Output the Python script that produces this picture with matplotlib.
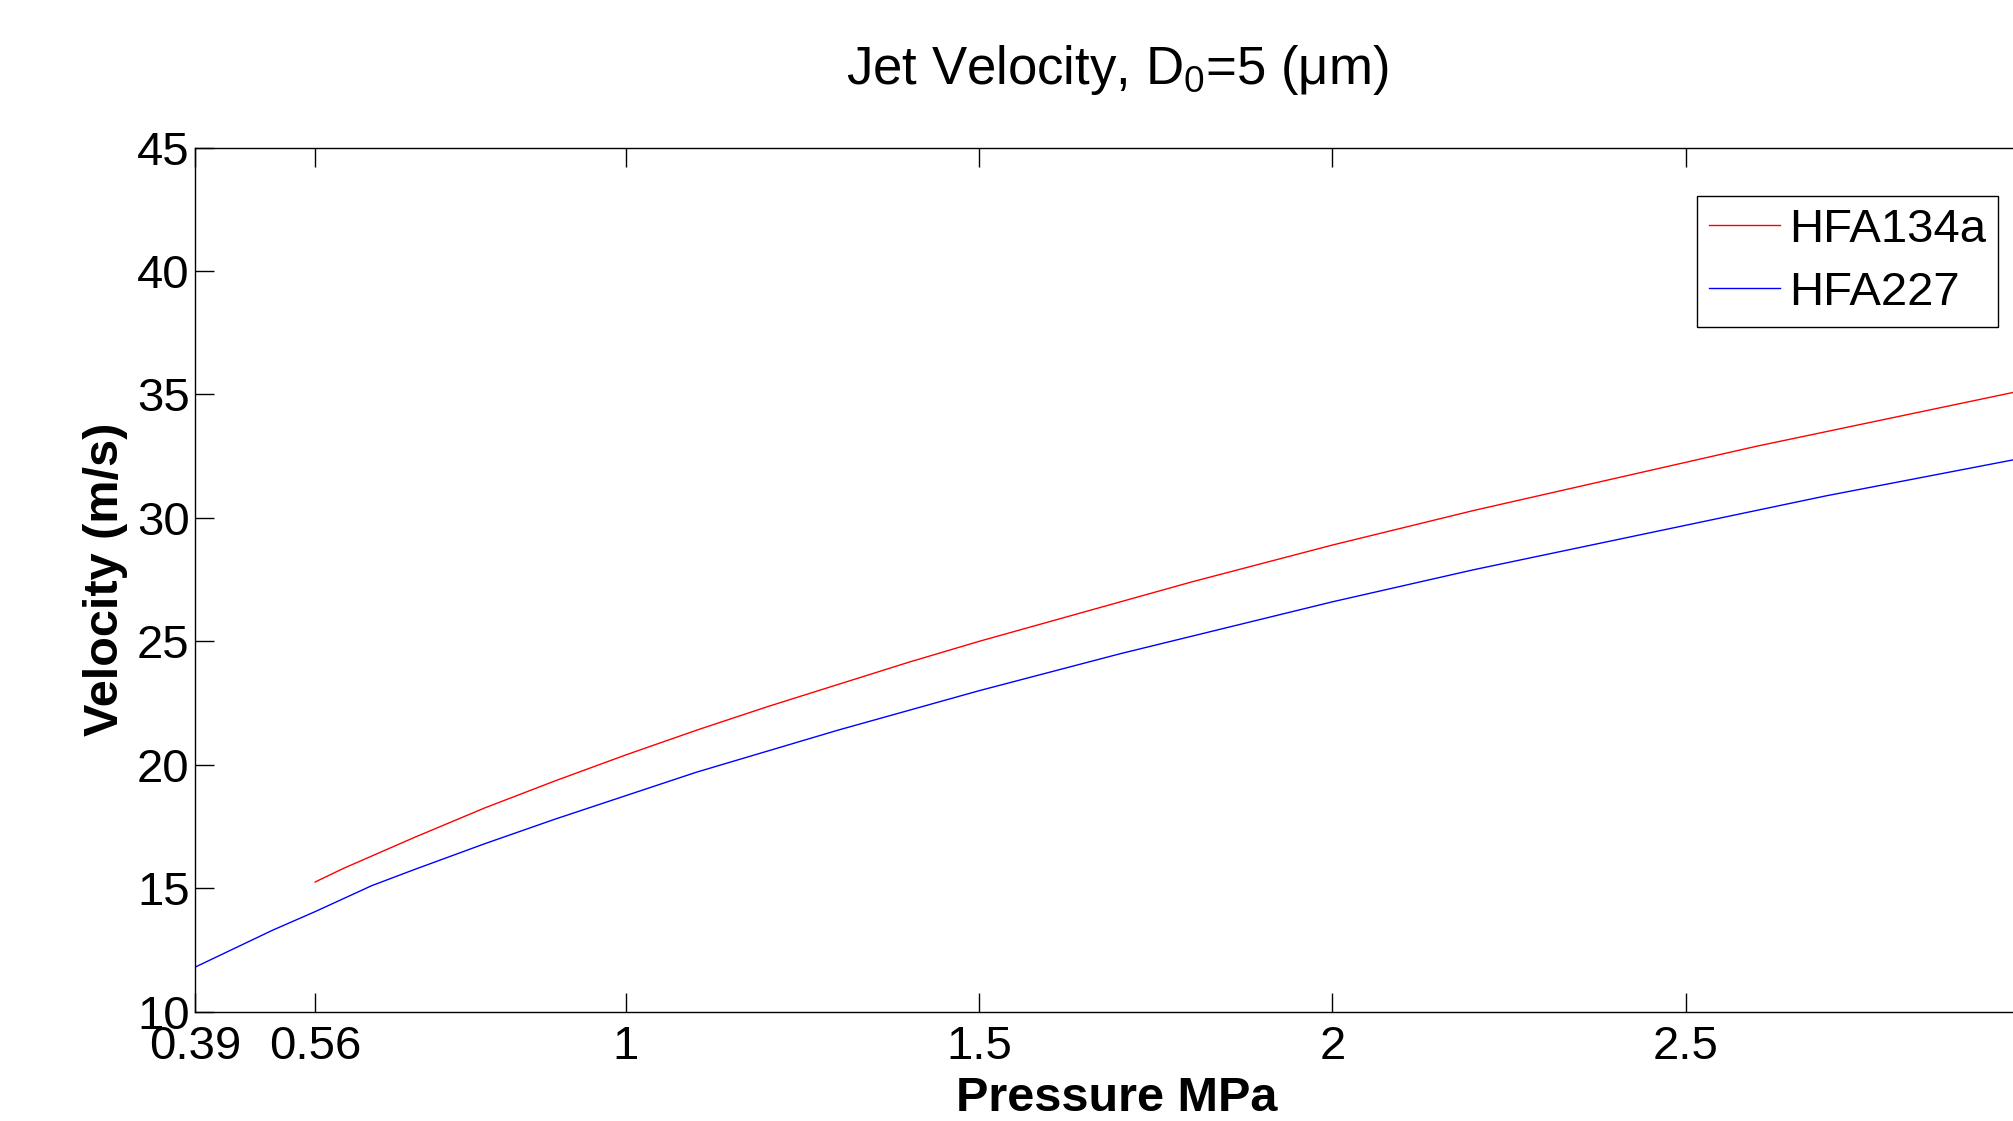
import matplotlib
matplotlib.use("Agg")
import matplotlib.pyplot as plt

plt.rcParams['font.family'] = ['Liberation Sans', 'DejaVu Sans']
plt.rcParams['mathtext.fontset'] = 'custom'
plt.rcParams['mathtext.rm'] = 'Liberation Sans'
plt.rcParams['mathtext.it'] = 'Liberation Sans'
plt.rcParams['mathtext.bf'] = 'Liberation Sans:bold'

# values
p_134a = [0.56, 0.6, 0.7, 0.8, 0.9, 1.0, 1.1, 1.2, 1.3, 1.4, 1.5, 1.6, 1.7, 1.8,
          1.9, 2.0, 2.1, 2.2, 2.3, 2.4, 2.5, 2.6, 2.7, 2.8, 2.9, 3.0]
v_134a = [15.25, 15.8, 17.05, 18.25, 19.35, 20.4, 21.4, 22.35, 23.25, 24.15, 25.0,
          25.8, 26.6, 27.4, 28.15, 28.9, 29.6, 30.3, 30.95, 31.6, 32.25, 32.9,
          33.5, 34.1, 34.7, 35.3]

p_227 = [0.39, 0.5, 0.56, 0.64, 0.7, 0.8, 0.9, 1.0, 1.1, 1.2, 1.3, 1.4, 1.5, 1.6,
         1.7, 1.8, 1.9, 2.0, 2.1, 2.2, 2.3, 2.4, 2.5, 2.6, 2.7, 2.8, 2.9, 3.0]
v_227 = [11.8, 13.3, 14.05, 15.1, 15.75, 16.8, 17.8, 18.75, 19.7, 20.55, 21.4,
         22.2, 23.0, 23.75, 24.5, 25.2, 25.9, 26.6, 27.25, 27.9, 28.5, 29.1, 29.7,
         30.3, 30.9, 31.45, 32.0, 32.55]

xticks = [0.39, 0.56, 1, 1.5, 2, 2.5]
xticklabels = ['0.39', '0.56', '1', '1.5', '2', '2.5']
yticks = [10, 15, 20, 25, 30, 35, 40, 45]

fig = plt.figure(figsize=(20.13, 11.21), dpi=100)
ax = fig.add_axes([0.0969, 0.0976, 0.9159, 0.7707])

ax.plot(p_134a, v_134a, color='#ff0000', lw=1.0, label='HFA134a')
ax.plot(p_227, v_227, color='#0000ff', lw=1.0, label='HFA227')

ax.set_xlim(0.39, 3.0)
ax.set_ylim(10, 45)
ax.set_xticks(xticks)
ax.set_xticklabels(xticklabels)
ax.set_yticks(yticks)
ax.tick_params(direction='in', length=14, width=1, labelsize=34,
               top=True, right=True)
ax.tick_params(axis='x', pad=10)
ax.tick_params(axis='y', pad=4)
for s in ax.spines.values():
    s.set_linewidth(1.0)

ax.set_title(r'Jet Velocity, D$_{\mathregular{0}}$=5 ($\mu$m)', fontsize=38, pad=46)
ax.set_xlabel('Pressure MPa', fontsize=35, fontweight='bold', labelpad=5)
ax.set_ylabel('Velocity (m/s)', fontsize=35, fontweight='bold', labelpad=6)

leg = ax.legend(loc='upper right', bbox_to_anchor=(0.978, 0.944),
                borderaxespad=0, fontsize=34, fancybox=False,
                edgecolor='black', framealpha=1, handlelength=1.5,
                handletextpad=0.2, labelspacing=0.4, borderpad=0.25)
leg.get_frame().set_linewidth(1.0)

fig.savefig('out.png', dpi=100)
